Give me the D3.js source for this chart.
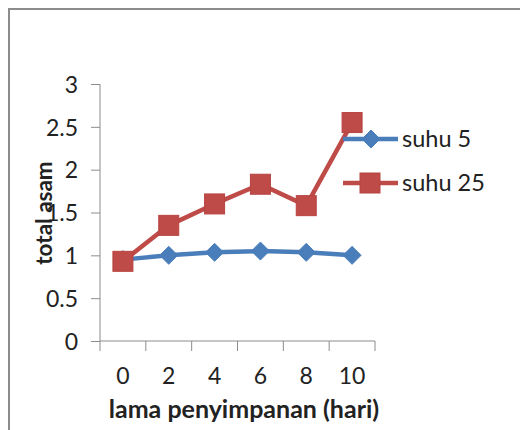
<!DOCTYPE html>
<html><head><meta charset="utf-8">
<script src="https://cdn.jsdelivr.net/npm/d3@7"></script>
<style>body{margin:0;background:#fff}svg{display:block}</style>
</head><body>
<svg id="c" width="520" height="430"></svg>
<script>
const categories = ["0","2","4","6","8","10"];
const suhu5 = [0.95, 1.0, 1.035, 1.05, 1.035, 1.0];
const suhu25 = [0.93, 1.35, 1.6, 1.83, 1.58, 2.55];
const yTicks = [0, 0.5, 1, 1.5, 2, 2.5, 3];
const seriesNames = ["suhu 5", "suhu 25"];

const svg = d3.select("#c");
const font = "Lato, 'Open Sans', sans-serif";
svg.append("rect").attr("x",9).attr("y",9).attr("width",530).attr("height",440)
  .attr("fill","#fff").attr("stroke","#8c8c8c").attr("stroke-width",2);

const x = d3.scaleBand().domain(categories).range([100,375]);
const y = d3.scaleLinear().domain([0,3]).range([341,84]);

const ya = svg.append("g").attr("transform","translate(100,0)")
  .call(d3.axisLeft(y).tickValues(yTicks).tickSize(9).tickPadding(13).tickFormat(d=>String(d)));
const xa = svg.append("g").attr("transform","translate(0,341)")
  .call(d3.axisBottom(x).tickSize(0).tickPadding(27));
xa.selectAll(".bt").data(d3.range(categories.length+1)).enter().append("line")
  .attr("x1",i=>100+i*x.step()).attr("x2",i=>100+i*x.step()).attr("y1",0).attr("y2",10)
  .attr("stroke","#8c8c8c").attr("stroke-width",1);
[ya,xa].forEach(a=>{
  a.selectAll("path,line").attr("stroke","#8c8c8c");
  a.selectAll("text").attr("font-family",font).attr("font-size",23).attr("fill","#222");
});
ya.selectAll("text").attr("dy","0.36em");
ya.select(".domain").attr("d","M0,84V341");
xa.select(".domain").attr("d","M100,0H375");

const cx = d => x(d)+x.bandwidth()/2;
const line = vals => d3.line().x((v,i)=>cx(categories[i])).y(v=>y(v))(vals);

const blue="#4a7ebb", red="#be4b48";
function diamond(g,xx,yy,s){g.append("path").attr("d",`M${xx},${yy-s}L${xx+s},${yy}L${xx},${yy+s}L${xx-s},${yy}Z`).attr("fill",blue).attr("stroke",blue).attr("stroke-width",1);}
function square(g,xx,yy,s){g.append("rect").attr("x",xx-s).attr("y",yy-s).attr("width",2*s).attr("height",2*s).attr("fill",red).attr("stroke","#b84441").attr("stroke-width",1);}

const g = svg.append("g");
g.append("path").attr("d",line(suhu5)).attr("fill","none").attr("stroke",blue).attr("stroke-width",4.5).attr("stroke-linejoin","round");
suhu5.forEach((v,i)=>diamond(g,cx(categories[i]),y(v),9));
g.append("path").attr("d",line(suhu25)).attr("fill","none").attr("stroke",red).attr("stroke-width",4.5).attr("stroke-linejoin","round");
suhu25.forEach((v,i)=>square(g,cx(categories[i]),y(v),10));

const lg = svg.append("g");
const ly=[139,183];
lg.append("line").attr("x1",343).attr("x2",398).attr("y1",ly[0]).attr("y2",ly[0]).attr("stroke",blue).attr("stroke-width",4.5);
diamond(lg,371,ly[0],9);
lg.append("line").attr("x1",343).attr("x2",398).attr("y1",ly[1]).attr("y2",ly[1]).attr("stroke",red).attr("stroke-width",4.5);
square(lg,370,ly[1],10);
seriesNames.forEach((n,i)=>lg.append("text").attr("x",402).attr("y",ly[i]).attr("dy","0.36em")
  .attr("font-family",font).attr("font-size",23.5).attr("fill","#222").text(n));

svg.append("text").attr("transform","translate(52,213) rotate(-90)").attr("text-anchor","middle")
  .attr("font-family",font).attr("font-weight","bold").attr("font-size",22.5).attr("fill","#222").text("total asam");
svg.append("text").attr("x",244).attr("y",409).attr("text-anchor","middle").attr("dy","0.35em")
  .attr("font-family",font).attr("font-weight","bold").attr("font-size",25).attr("fill","#222").text("lama penyimpanan (hari)");
</script>
</body></html>
